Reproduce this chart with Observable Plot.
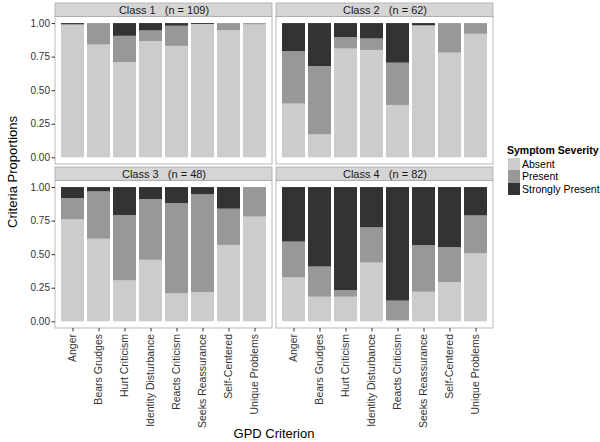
<!DOCTYPE html>
<html><head><meta charset="utf-8">
<script src="https://cdn.jsdelivr.net/npm/d3@7"></script>
<script src="https://cdn.jsdelivr.net/npm/@observablehq/plot@0.6"></script>
<style>
body{margin:0;background:#fff;}
#wrap{position:relative;width:600px;height:442px;font-family:"Liberation Sans",Arial,sans-serif;color:#000;}
#wrap svg text{white-space:pre;}
.abs{position:absolute;white-space:nowrap;}
</style></head><body><div id="wrap"></div>
<script>
const criteria = ["Anger","Bears Grudges","Hurt Criticism","Identity Disturbance","Reacts Criticism","Seeks Reassurance","Self-Centered","Unique Problems"];
const severities = ["Absent","Present","Strongly Present"];
const severityColors = ["#cccccc","#989898","#333333"];
const classLabels = ["Class 1   (n = 109)","Class 2   (n = 62)","Class 3   (n = 48)","Class 4   (n = 82)"];

const absent1  = [0.99, 0.84, 0.71, 0.865, 0.83, 0.993, 0.946, 0.99];
const present1 = [0.00, 0.16, 0.195, 0.08, 0.15, 0.00, 0.054, 0.01];
const strong1  = [0.01, 0.00, 0.095, 0.055, 0.02, 0.007, 0.00, 0.00];

const absent2  = [0.40, 0.17, 0.81, 0.80, 0.39, 0.983, 0.78, 0.92];
const present2 = [0.39, 0.51, 0.085, 0.085, 0.315, 0.00, 0.22, 0.08];
const strong2  = [0.21, 0.32, 0.105, 0.115, 0.295, 0.017, 0.00, 0.00];

const absent3  = [0.76, 0.615, 0.305, 0.458, 0.208, 0.218, 0.569, 0.78];
const present3 = [0.158, 0.353, 0.487, 0.453, 0.673, 0.728, 0.27, 0.22];
const strong3  = [0.082, 0.032, 0.208, 0.089, 0.119, 0.054, 0.161, 0.00];

const absent4  = [0.327, 0.183, 0.183, 0.438, 0.01, 0.22, 0.292, 0.507];
const present4 = [0.267, 0.225, 0.05, 0.262, 0.144, 0.347, 0.26, 0.282];
const strong4  = [0.406, 0.592, 0.767, 0.30, 0.846, 0.433, 0.448, 0.211];

const yTicks = [0, 0.25, 0.5, 0.75, 1];

const classValues = [
  [absent1, present1, strong1],
  [absent2, present2, strong2],
  [absent3, present3, strong3],
  [absent4, present4, strong4]
];

const rows = [];
classValues.forEach((sets, ci) => {
  criteria.forEach((c, k) => {
    severities.forEach((s, si) => {
      rows.push({col: ci % 2, row: Math.floor(ci / 2), criterion: c, severity: s, value: sets[si][k]});
    });
  });
});
const strips = classLabels.map((label, ci) => ({col: ci % 2, row: Math.floor(ci / 2), label}));

const panelTop = 1.05, stripTop = 1.1495;

const chart = Plot.plot({
  width: 600, height: 442,
  marginTop: 2, marginBottom: 114, marginLeft: 55, marginRight: 107,
  style: {fontFamily: '"Liberation Sans", Arial, sans-serif', background: "white", color: "#333"},
  fx: {domain: [0, 1], paddingInner: 0.0181, paddingOuter: 0, axis: null},
  fy: {domain: [0, 1], paddingInner: 0.0202, paddingOuter: 0, axis: null},
  x: {domain: criteria, paddingInner: 0.1, paddingOuter: 0.15, axis: null},
  y: {domain: [-0.05, stripTop], axis: null},
  color: {domain: severities, range: severityColors},
  marks: [
    Plot.rect(strips, {fx: "col", fy: "row", y1: -0.05, y2: panelTop, fill: "white", stroke: "#a8a8a8", strokeWidth: 0.8}),
    Plot.rect(strips, {fx: "col", fy: "row", y1: panelTop, y2: stripTop, fill: "#d5d5d5", stroke: "#a8a8a8", strokeWidth: 0.8}),
    Plot.text(strips, {fx: "col", fy: "row", y: (panelTop + stripTop) / 2, text: "label", frameAnchor: "middle", fontSize: 11, fill: "#1a1a1a"}),
    Plot.barY(rows, {fx: "col", fy: "row", x: "criterion", y: "value", fill: "severity"}),
    Plot.axisY({ticks: yTicks, tickFormat: d3.format(".2f"), tickSize: 3.5, tickPadding: 2, fontSize: 10, label: null, anchor: "left"}),
    Plot.axisX({tickRotate: -90, tickSize: 3.5, tickPadding: 2, fontSize: 10.5, label: null, anchor: "bottom"})
  ]
});
const wrap = document.getElementById("wrap");
chart.style.position = "absolute"; chart.style.left = "0px"; chart.style.top = "0px";
wrap.appendChild(chart);

function addText(txt, css) {
  const d = document.createElement("div");
  d.className = "abs"; d.textContent = txt;
  Object.assign(d.style, css);
  wrap.appendChild(d);
  return d;
}
addText("Criteria Proportions", {left: "12px", top: "172px", fontSize: "13px", transform: "translate(-50%,-50%) rotate(-90deg)"});
addText("GPD Criterion", {left: "274px", top: "433px", fontSize: "13px", transform: "translate(-50%,-50%)"});
addText("Symptom Severity", {left: "507px", top: "150px", fontSize: "10.5px", fontWeight: "bold", transform: "translateY(-50%)"});
severities.forEach((s, i) => {
  const y = 157.5 + i * 12.6;
  const sw = document.createElement("div");
  sw.className = "abs";
  Object.assign(sw.style, {left: "507.5px", top: y + "px", width: "12.5px", height: "12.6px", background: severityColors[i]});
  wrap.appendChild(sw);
  addText(s, {left: "522px", top: (y + 6.3) + "px", fontSize: "10.5px", transform: "translateY(-50%)"});
});
</script>
</body></html>
